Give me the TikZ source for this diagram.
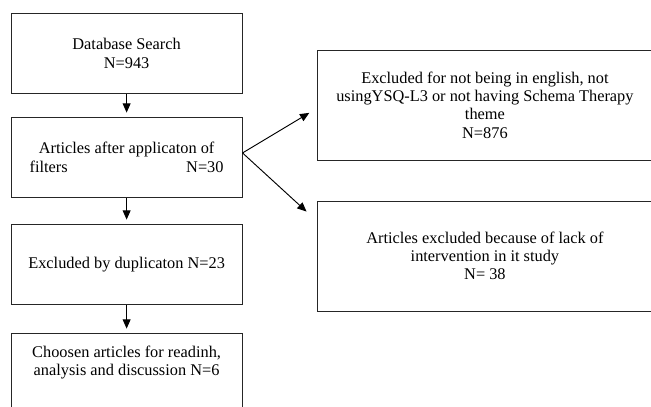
\documentclass[tikz,border=0pt]{standalone}
\usepackage{fontspec}
\setmainfont{Liberation Serif}
\usepackage{tikz}
\usetikzlibrary{positioning, arrows.meta}

\begin{document}
\begin{tikzpicture}[
            box/.style={rectangle, draw=black!85, line width=0.7pt,
                        minimum width=6.11cm, minimum height=2.14cm,
                        align=center, font=\fontsize{12.3}{13.8}\selectfont},
            exbox/.style={box, minimum width=8.84cm, minimum height=2.91cm},
            arr/.style={-{Triangle[length=7pt, width=6pt]}, line width=0.7pt,
                        shorten >=3pt}
          ]
          \useasboundingbox (0,0) rectangle (17.224,-10.768);
          \clip (0,0) rectangle (17.224,-10.768);

          % main column
          \node[box] (search) at (3.35,-1.415) {Database Search\\N=943};
          \node[box] (filt) at (3.35,-4.167)
                {Articles after applicaton of\\\makebox[5.13cm]{filters\hfill N=30}};
          \node[box] (dupl) at (3.35,-6.998) {Excluded by duplicaton N=23};
          \node[box] (chosen) at (3.35,-9.882) {};
          \node[align=center, font=\fontsize{12.3}{13.8}\selectfont] (chosentxt)
                at ([yshift=-0.79cm]chosen.north)
                {Choosen articles for readinh,\\analysis and discussion N=6};

          % excluded boxes
          \node[exbox] (lang) at (12.83,-2.778)
                {Excluded for not being in english, not\\usingYSQ-L3 or not having Schema Therapy\\theme\\N=876};
          \node[exbox] (lack) at (12.83,-6.773)
                {Articles excluded because of lack of\\intervention in it study\\N= 38};

          % arrows
          \draw[arr] (search) -- (filt);
          \draw[arr] (filt) -- (dupl);
          \draw[arr] (dupl) -- (chosen);
          \coordinate (split) at ([yshift=0.12cm]filt.east);
          \draw[arr, shorten >=0.25cm] (split) -- ([yshift=-0.08cm]lang.west);
          \draw[arr, shorten >=0.39cm] (split) -- ([yshift=-0.556cm]lack.north west);
        \end{tikzpicture}
\end{document}
